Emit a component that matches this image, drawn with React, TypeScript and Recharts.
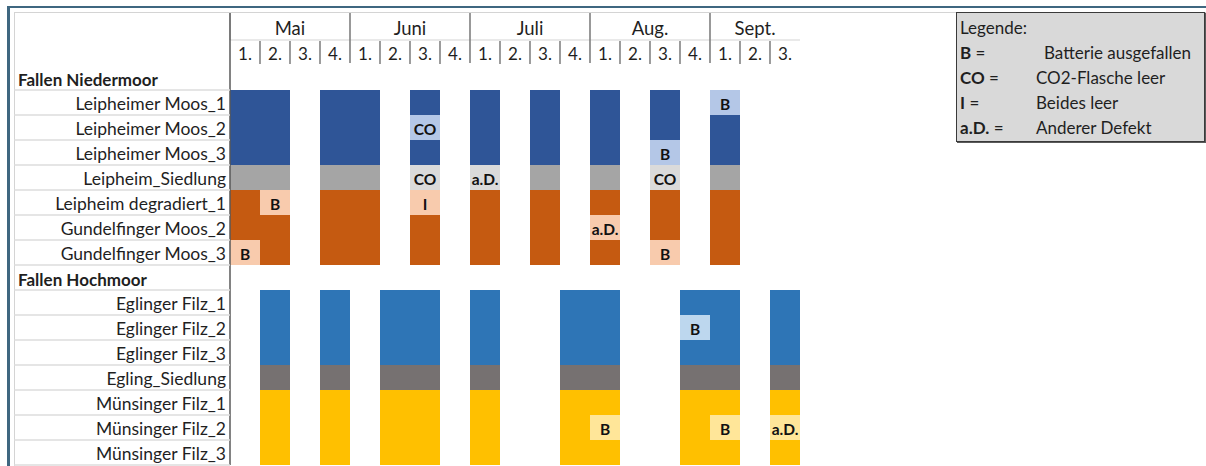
import React from "react";
import { BarChart, Bar, XAxis, YAxis, Cell, LabelList, Legend } from "recharts";

// ---------- data ----------
const rowNames = [
  "Fallen Niedermoor",
  "Leipheimer Moos_1",
  "Leipheimer Moos_2",
  "Leipheimer Moos_3",
  "Leipheim_Siedlung",
  "Leipheim degradiert_1",
  "Gundelfinger Moos_2",
  "Gundelfinger Moos_3",
  "Fallen Hochmoor",
  "Eglinger Filz_1",
  "Eglinger Filz_2",
  "Eglinger Filz_3",
  "Egling_Siedlung",
  "Münsinger Filz_1",
  "Münsinger Filz_2",
  "Münsinger Filz_3",
];
const rowGroups = [
  "header", "moos", "moos", "moos", "siedlungN", "degr", "degr", "degr",
  "header", "filz", "filz", "filz", "siedlungH", "muens", "muens", "muens",
];
const months = ["Mai", "Juni", "Juli", "Aug.", "Sept."];
const weeksPerMonth = [4, 4, 4, 4, 3];
const weekNumbers = ["1.", "2.", "3.", "4."];

// week indices (0 = Mai 1.) in which the traps were running
const niedermoorWeeks = [0, 1, 3, 4, 6, 8, 10, 12, 14, 16];
const hochmoorWeeks = [1, 3, 5, 6, 8, 11, 12, 15, 16, 18];

// defects
const defectRows = [
  "Leipheimer Moos_1", "Leipheimer Moos_2", "Leipheimer Moos_3",
  "Leipheim_Siedlung", "Leipheim_Siedlung", "Leipheim_Siedlung",
  "Leipheim degradiert_1", "Leipheim degradiert_1",
  "Gundelfinger Moos_2", "Gundelfinger Moos_3", "Gundelfinger Moos_3",
  "Eglinger Filz_2", "Münsinger Filz_2", "Münsinger Filz_2", "Münsinger Filz_2",
];
const defectWeeks = [16, 6, 14, 6, 8, 14, 1, 6, 12, 0, 14, 15, 12, 16, 18];
const defectCodes = ["B", "CO", "B", "CO", "a.D.", "CO", "B", "I", "a.D.", "B", "B", "B", "B", "B", "a.D."];

const legendCodes = ["B", "CO", "I", "a.D."];
const legendTexts = ["Batterie ausgefallen", "CO2-Flasche leer", "Beides leer", "Anderer Defekt"];

// ---------- styles ----------
const FONT = "Lato, 'Open Sans', sans-serif";
const TEXT = "#1f1f1f";
const palette: Record<string, [string, string]> = {
  moos: ["#2F5597", "#B4C7E7"],
  siedlungN: ["#A5A5A5", "#DADADA"],
  degr: ["#C55A11", "#F8CBAD"],
  filz: ["#2E75B6", "#BDD7EE"],
  siedlungH: ["#767171", "#AEAAAA"],
  muens: ["#FFC000", "#FFE699"],
  header: ["transparent", "transparent"],
};
const sectionWeeks: Record<string, number[]> = {
  header: [],
  moos: niedermoorWeeks,
  siedlungN: niedermoorWeeks,
  degr: niedermoorWeeks,
  filz: hochmoorWeeks,
  siedlungH: hochmoorWeeks,
  muens: hochmoorWeeks,
};

const ROW_H = 25;
const COL_W = 30;

// ---------- derived ----------
const weekLabels = weeksPerMonth.flatMap((n) => weekNumbers.slice(0, n));
const N = weekLabels.length;
const weekIdx = Array.from({ length: N }, (_, i) => i);
const monthStarts: number[] = [];
weeksPerMonth.forEach((n, i) => monthStarts.push(i === 0 ? 0 : monthStarts[i - 1] + weeksPerMonth[i - 1]));
const monthCenters = monthStarts.map((s, i) => s + weeksPerMonth[i] / 2);
const weekTicks = [...weekIdx, N, ...weekIdx.map((i) => i + 0.5)].sort((a, b) => a - b);
const monthTicks = [...monthStarts, ...monthCenters].sort((a, b) => a - b);

const data = rowNames.map((name, r) => {
  const g = rowGroups[r];
  const row: any = { name, group: g };
  weekIdx.forEach((i) => {
    row[`c${i}`] = 1;
    const d = defectRows.findIndex((dn, k) => dn === name && defectWeeks[k] === i);
    row[`s${i}`] = d >= 0 ? defectCodes[d] : sectionWeeks[g].includes(i) ? "on" : "off";
  });
  return row;
});

const fillFor = (g: string, s: string) =>
  s === "off" ? "transparent" : s === "on" ? palette[g][0] : palette[g][1];

// ---------- renderers ----------
const DefectLabel = (props: any) => {
  const { x, y, width, height, value } = props;
  if (value == null || value === "on" || value === "off") return null;
  return (
    <text
      x={Number(x) + Number(width) / 2}
      y={Number(y) + Number(height) / 2 + 1}
      textAnchor="middle"
      dominantBaseline="central"
      fontFamily={FONT}
      fontWeight={700}
      fontSize={15.5}
      fill="#111"
    >
      {value}
    </text>
  );
};

const RowTick = (props: any) => {
  const { x, y, payload } = props;
  const idx = rowNames.indexOf(payload.value);
  const isHeader = rowGroups[idx] === "header";
  return (
    <g>
      <line x1={x - 216} x2={x} y1={y + ROW_H / 2} y2={y + ROW_H / 2} stroke="#DCDCDC" strokeWidth={1.5} />
      {isHeader ? (
        <text x={x - 212} y={y + 8} textAnchor="start" fontFamily={FONT} fontWeight={700} fontSize={17} fill={TEXT}>
          {payload.value}
        </text>
      ) : (
        <text x={x - 4} y={y + 7.5} textAnchor="end" fontFamily={FONT} fontSize={17.5} fill={TEXT}>
          {payload.value}
        </text>
      )}
    </g>
  );
};

const WeekTick = (props: any) => {
  const { x, y, payload } = props;
  const v = payload.value;
  if (Number.isInteger(v)) {
    if (v === 0) return <line x1={x} x2={x} y1={y - 25} y2={y} stroke="#595959" strokeWidth={1.5} />;
    if (v >= N || monthStarts.includes(v)) return <g />;
    return <line x1={x} x2={x} y1={y - 24} y2={y - 1} stroke="#595959" strokeWidth={1.2} />;
  }
  return (
    <text x={x} y={y - 5} textAnchor="middle" fontFamily={FONT} fontSize={17} fill={TEXT}>
      {weekLabels[Math.floor(v)]}
    </text>
  );
};

const MonthTick = (props: any) => {
  const { x, y, payload } = props;
  const v = payload.value;
  const si = monthStarts.indexOf(v);
  if (si >= 0)
    return (
      <line
        x1={x}
        x2={x}
        y1={y - 27}
        y2={si === 0 ? y : y + 23}
        stroke={si === 0 ? "#595959" : "#7F7F7F"}
        strokeWidth={1.6}
      />
    );
  const ci = monthCenters.indexOf(v);
  if (ci >= 0)
    return (
      <text x={x} y={y - 5} textAnchor="middle" fontFamily={FONT} fontSize={18.5} fill={TEXT}>
        {months[ci]}
      </text>
    );
  return <g />;
};

const LegendBox = () => (
  <div
    style={{
      width: 249,
      height: 130,
      boxSizing: "border-box",
      background: "#D9D9D9",
      border: "1.5px solid #3a3a3a",
      boxShadow: "1px 1px 0 #5a5a5a",
      fontFamily: FONT,
      fontSize: 17,
      color: TEXT,
      position: "relative",
    }}
  >
    <div style={{ position: "absolute", left: 3, top: 2, lineHeight: "25px", whiteSpace: "nowrap" }}>Legende:</div>
    {legendCodes.map((c, i) => (
      <React.Fragment key={c}>
        <div style={{ position: "absolute", left: 3, top: 27 + i * 25, lineHeight: "25px", whiteSpace: "nowrap" }}>
          <b>{c}</b> =
        </div>
        <div
          style={{
            position: "absolute",
            left: i === 0 ? 87 : 79,
            top: 27 + i * 25,
            lineHeight: "25px",
            whiteSpace: "nowrap",
          }}
        >
          {legendTexts[i]}
        </div>
      </React.Fragment>
    ))}
  </div>
);

export default function App() {
  const plotW = N * COL_W;
  const plotH = rowNames.length * ROW_H;
  const marginTop = 13;
  const marginLeft = 14;
  const yAxisW = 216;
  const width = 1206;
  const height = 466;
  return (
    <div style={{ position: "relative", width, height, overflow: "hidden", background: "#fff" }}>
      <style>{"body{margin:0}"}</style>
      {/* sheet frame */}
      <div style={{ position: "absolute", left: 7, top: 6, right: 0, height: 2, background: "#3F6780" }} />
      <div style={{ position: "absolute", left: 7, top: 6, bottom: 0, width: 2.5, background: "#3F6780" }} />
      <div style={{ position: "absolute", left: 14, top: 12, right: 0, height: 1, background: "#D4D4D4" }} />
      <div style={{ position: "absolute", left: 14, top: 12, bottom: 0, width: 1, background: "#D4D4D4" }} />
      <div style={{ position: "absolute", left: 0, top: 0 }}>
        <BarChart
          width={width}
          height={height}
          data={data}
          layout="vertical"
          barCategoryGap={0}
          barGap={0}
          margin={{
            top: marginTop,
            left: marginLeft,
            right: width - marginLeft - yAxisW - plotW,
            bottom: height - marginTop - 52 - plotH,
          }}
        >
          <XAxis
            xAxisId="b_month"
            type="number"
            orientation="top"
            domain={[0, N]}
            ticks={monthTicks}
            interval={0}
            height={27}
            tick={<MonthTick />}
            tickLine={false}
            axisLine={{ stroke: "#D4D4D4", strokeWidth: 1.2 }}
            tickSize={0}
            tickMargin={0}
            allowDataOverflow
          />
          <XAxis
            xAxisId="a_week"
            type="number"
            orientation="top"
            domain={[0, N]}
            ticks={weekTicks}
            interval={0}
            height={25}
            tick={<WeekTick />}
            tickLine={false}
            axisLine={false}
            tickSize={0}
            tickMargin={0}
            allowDataOverflow
          />
          <YAxis
            type="category"
            dataKey="name"
            width={yAxisW}
            interval={0}
            tick={<RowTick />}
            tickLine={false}
            tickSize={0}
            tickMargin={0}
            axisLine={{ stroke: "#595959", strokeWidth: 1.5 }}
          />
          <Legend
            layout="horizontal"
            verticalAlign="middle"
            align="center"
            content={<LegendBox />}
            wrapperStyle={{ position: "absolute", left: 956, top: 12, width: 249, height: 130, margin: 0 }}
          />
          {weekIdx.map((i) => (
            <Bar key={i} dataKey={`c${i}`} stackId="w" xAxisId="a_week" isAnimationActive={false}>
              {data.map((row, r) => (
                <Cell key={r} fill={fillFor(row.group, row[`s${i}`])} />
              ))}
              <LabelList dataKey={`s${i}`} content={<DefectLabel />} />
            </Bar>
          ))}
        </BarChart>
      </div>
    </div>
  );
}
